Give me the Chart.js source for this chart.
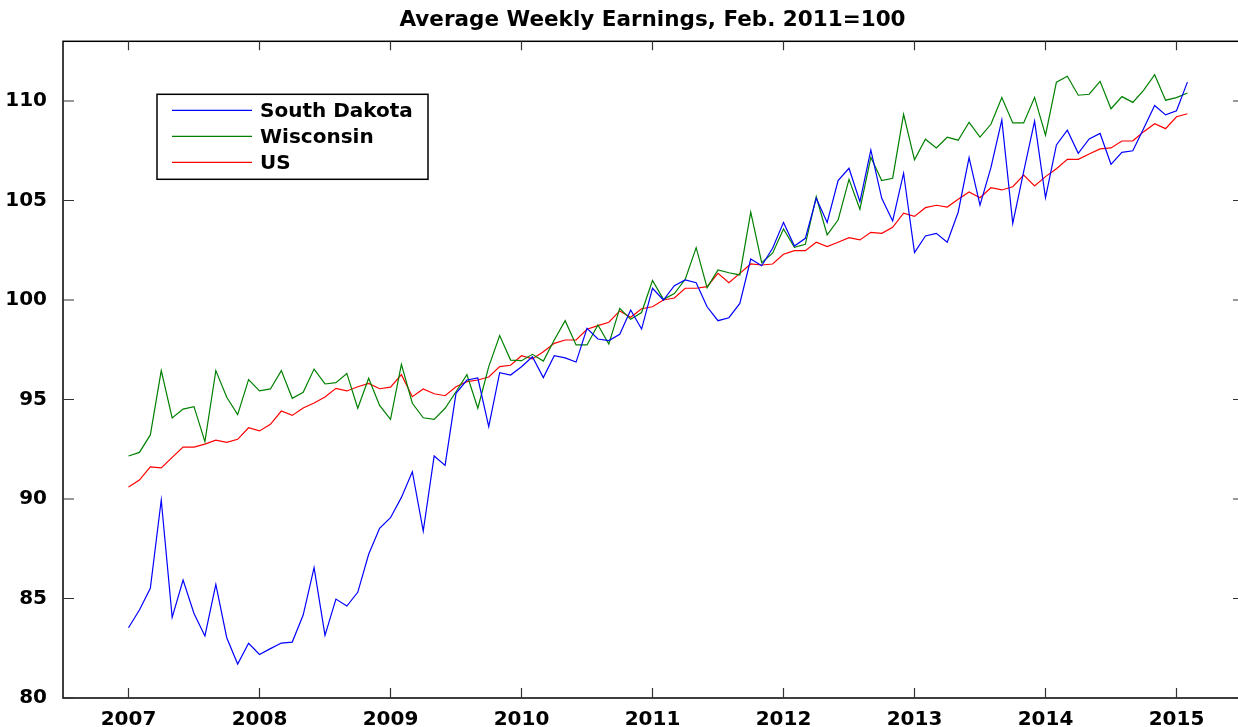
<!DOCTYPE html>
<html>
<head>
<meta charset="utf-8">
<title>Average Weekly Earnings</title>
<script src="https://cdn.jsdelivr.net/npm/chart.js@4.4.0/dist/chart.umd.min.js"></script>
<style>
  html, body { margin: 0; padding: 0; background: #fff; overflow: hidden; }
  canvas { display: block; }
</style>
</head>
<body>
<canvas id="myChart" width="1242" height="727"></canvas>
<script>
// monthly series, Jan 2007 .. Feb 2015
const startYear = 2007;
const yearTicks = [2007, 2008, 2009, 2010, 2011, 2012, 2013, 2014, 2015];
const valueTicks = [80, 85, 90, 95, 100, 105, 110];
const seriesNames = ["South Dakota", "Wisconsin", "US"];

const southDakota = [
  83.53, 84.42, 85.51, 89.95, 84.05, 85.93, 84.25, 83.12, 85.71, 83.03, 81.71, 82.75,
  82.19, 82.48, 82.76, 82.81, 84.17, 86.55, 83.15, 84.97, 84.62, 85.31, 87.22, 88.53,
  89.06, 90.08, 91.37, 88.39, 92.16, 91.69, 95.31, 95.98, 96.08, 93.64, 96.35, 96.23,
  96.65, 97.15, 96.10, 97.20, 97.09, 96.88, 98.58, 98.04, 97.96, 98.28, 99.50, 98.54,
  100.59, 100.00, 100.72, 101.01, 100.87, 99.66, 98.96, 99.11, 99.83, 102.06, 101.72, 102.60,
  103.90, 102.71, 103.10, 105.11, 103.90, 106.00, 106.62, 104.94, 107.54, 105.11, 103.97, 106.37,
  102.38, 103.22, 103.35, 102.90, 104.41, 107.15, 104.77, 106.65, 109.05, 103.85, 106.45, 108.99,
  105.14, 107.79, 108.53, 107.37, 108.09, 108.37, 106.82, 107.42, 107.50, 108.63, 109.77, 109.30,
  109.51, 110.95
];
const wisconsin = [
  92.16, 92.34, 93.22, 96.45, 94.07, 94.52, 94.64, 92.88, 96.45, 95.11, 94.24, 96.00,
  95.43, 95.53, 96.45, 95.06, 95.36, 96.53, 95.78, 95.85, 96.31, 94.56, 96.07, 94.70,
  94.00, 96.77, 94.81, 94.08, 94.00, 94.56, 95.39, 96.25, 94.56, 96.65, 98.21, 96.98,
  96.95, 97.27, 96.93, 97.99, 98.96, 97.74, 97.74, 98.74, 97.79, 99.58, 99.03, 99.37,
  100.98, 100.03, 100.32, 101.04, 102.63, 100.62, 101.51, 101.37, 101.26, 104.41, 101.88, 102.35,
  103.57, 102.65, 102.80, 105.19, 103.27, 104.02, 106.06, 104.56, 107.17, 106.00, 106.12, 109.33,
  107.04, 108.08, 107.64, 108.18, 108.03, 108.93, 108.19, 108.83, 110.17, 108.90, 108.90, 110.18,
  108.28, 110.95, 111.24, 110.29, 110.34, 110.99, 109.61, 110.22, 109.93, 110.55, 111.32, 110.04,
  110.17, 110.40
];
const us = [
  90.60, 90.95, 91.61, 91.56, 92.09, 92.61, 92.61, 92.76, 92.96, 92.85, 93.00, 93.58,
  93.42, 93.75, 94.42, 94.20, 94.57, 94.82, 95.13, 95.56, 95.43, 95.64, 95.81, 95.54,
  95.62, 96.25, 95.14, 95.53, 95.29, 95.19, 95.64, 95.90, 95.98, 96.13, 96.65, 96.72,
  97.20, 97.04, 97.40, 97.82, 97.99, 97.99, 98.53, 98.71, 98.88, 99.45, 99.13, 99.56,
  99.66, 100.00, 100.10, 100.59, 100.59, 100.67, 101.34, 100.87, 101.34, 101.81, 101.76, 101.81,
  102.30, 102.48, 102.48, 102.90, 102.68, 102.90, 103.13, 103.02, 103.40, 103.35, 103.65, 104.36,
  104.20, 104.64, 104.76, 104.67, 105.06, 105.43, 105.14, 105.64, 105.53, 105.69, 106.28, 105.73,
  106.20, 106.60, 107.07, 107.07, 107.34, 107.59, 107.64, 107.99, 108.00, 108.46, 108.86, 108.61,
  109.21, 109.36
];

const FONT = "'DejaVu Sans', 'Liberation Sans', Arial, sans-serif";

// month i -> decimal year
function toPoints(valores) {
    return valores.map((v, i) => ({ x: startYear + i / 12, y: v }));
}

// black box, inward ticks on all four sides, legend inside the axes
const matlabAxes = {
    id: "matlabAxes",
    afterDraw(chart) {
        const ctx = chart.ctx;
        const area = chart.chartArea;
        const xs = chart.scales.x;
        const ys = chart.scales.y;

        ctx.save();
        ctx.strokeStyle = "#000";
        ctx.lineWidth = 1.5;
        ctx.strokeRect(area.left, area.top, area.right - area.left, area.bottom - area.top);

        ctx.lineWidth = 1.2;
        ctx.strokeStyle = "#333";
        ctx.beginPath();
        yearTicks.forEach(t => {
            const px = xs.getPixelForValue(t);
            ctx.moveTo(px, area.bottom);
            ctx.lineTo(px, area.bottom - 10);
            ctx.moveTo(px, area.top);
            ctx.lineTo(px, area.top + 9);
        });
        valueTicks.forEach(t => {
            const py = ys.getPixelForValue(t);
            ctx.moveTo(area.left, py);
            ctx.lineTo(area.left + 11, py);
            ctx.moveTo(area.right, py);
            ctx.lineTo(area.right - 9, py);
        });
        ctx.stroke();

        // legend
        const lx = area.left + 94;
        const ly = area.top + 53;
        ctx.fillStyle = "#fff";
        ctx.fillRect(lx, ly, 271, 85);
        ctx.strokeStyle = "#000";
        ctx.lineWidth = 1.5;
        ctx.strokeRect(lx, ly, 271, 85);

        ctx.font = "bold 20px " + FONT;
        ctx.textBaseline = "middle";
        chart.data.datasets.forEach((ds, k) => {
            const rowY = ly + 16 + k * 26;
            ctx.strokeStyle = ds.borderColor;
            ctx.lineWidth = 1.2;
            ctx.beginPath();
            ctx.moveTo(lx + 15, rowY);
            ctx.lineTo(lx + 95, rowY);
            ctx.stroke();
            ctx.fillStyle = "#000";
            ctx.fillText(ds.label, lx + 103, rowY + 1);
        });
        ctx.restore();
    }
};

document.addEventListener("DOMContentLoaded", function() {
    const colores = ["#0000ff", "#008000", "#ff0000"];
    const series = [southDakota, wisconsin, us];

    const datasets = series.map((valores, k) => ({
        label: seriesNames[k],
        data: toPoints(valores),
        borderColor: colores[k],
        borderWidth: 1.2,
        pointRadius: 0,
        fill: false,
        tension: 0
    }));

    const tickFont = { family: FONT, size: 20, weight: "bold" };

    const config = {
        type: "line",
        data: { datasets },
        options: {
            responsive: false,
            animation: false,
            layout: { padding: 0 },
            plugins: {
                legend: { display: false },
                tooltip: { enabled: false },
                title: {
                    display: true,
                    text: "Average Weekly Earnings, Feb. 2011=100",
                    color: "#000",
                    font: { family: FONT, size: 21.5, weight: "bold" },
                    padding: { top: 8, bottom: 7.5 },
                    fullSize: false
                }
            },
            scales: {
                x: {
                    type: "linear",
                    min: 2006.5,
                    max: 2015.5,
                    grid: { display: false },
                    border: { display: false },
                    afterBuildTicks: s => { s.ticks = yearTicks.map(v => ({ value: v })); },
                    afterFit: s => { s.height = 29; },
                    ticks: {
                        color: "#000",
                        font: tickFont,
                        padding: 2,
                        maxRotation: 0,
                        autoSkip: false,
                        callback: v => String(v)
                    }
                },
                y: {
                    min: 80,
                    max: 113,
                    grid: { display: false },
                    border: { display: false },
                    afterBuildTicks: s => { s.ticks = valueTicks.map(v => ({ value: v })); },
                    afterFit: s => { s.width = 63; },
                    ticks: {
                        color: "#000",
                        font: tickFont,
                        padding: 8,
                        callback: v => String(v)
                    }
                }
            }
        },
        plugins: [matlabAxes]
    };

    new Chart(document.getElementById("myChart"), config);
});
</script>
</body>
</html>
